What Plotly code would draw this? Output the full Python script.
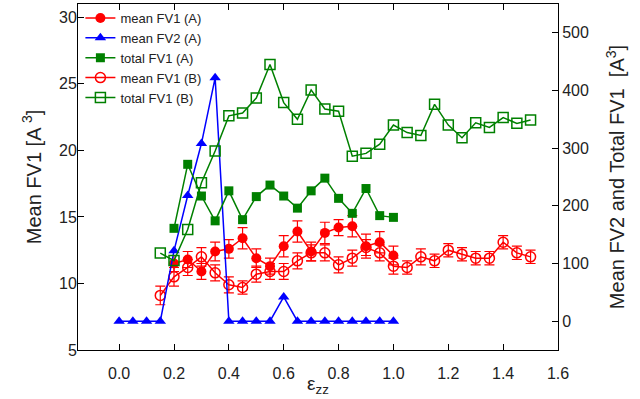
import plotly.graph_objects as go

# strain values
x_fv2_a = [0.0, 0.05, 0.1, 0.15, 0.2, 0.25, 0.3, 0.35, 0.4, 0.45, 0.5, 0.55, 0.6, 0.65, 0.7, 0.75, 0.8, 0.85, 0.9, 0.95, 1.0]
x_a = [0.2, 0.25, 0.3, 0.35, 0.4, 0.45, 0.5, 0.55, 0.6, 0.65, 0.7, 0.75, 0.8, 0.85, 0.9, 0.95, 1.0]
x_b = [0.15, 0.2, 0.25, 0.3, 0.35, 0.4, 0.45, 0.5, 0.55, 0.6, 0.65, 0.7, 0.75, 0.8, 0.85, 0.9, 0.95, 1.0,
       1.05, 1.1, 1.15, 1.2, 1.25, 1.3, 1.35, 1.4, 1.45, 1.5]

# series
mean_fv1_a = [11.5, 11.8, 10.9, 12.4, 12.6, 13.4, 11.9, 11.3, 12.8, 13.9, 12.4, 13.8, 14.2, 14.3, 12.8, 13.1, 12.1]
mean_fv1_a_err = [0.6, 0.6, 0.6, 0.7, 0.7, 0.8, 0.7, 0.6, 0.8, 0.8, 0.7, 0.8, 0.6, 0.8, 0.9, 0.8, 0.7]
mean_fv2_a = [0, 0, 0, 0, 122, 218, 308, 422, 0, 0, 0, 0, 42, 0, 0, 0, 0, 0, 0, 0, 0]
total_fv1_a = [161, 272, 217, 174, 226, 176, 216, 236, 217, 196, 226, 248, 213, 187, 230, 183, 180]
mean_fv1_b = [9.1, 10.5, 11.2, 12.0, 10.8, 9.9, 9.7, 10.7, 10.9, 10.9, 11.7, 12.3, 12.3, 11.4, 11.9, 12.7,
              12.3, 11.3, 11.2, 12.0, 11.7, 12.5, 12.2, 11.9, 11.9, 13.1, 12.3, 12.0]
mean_fv1_b_err = [0.7, 0.7, 0.6, 0.7, 0.6, 0.6, 0.5, 0.6, 0.6, 0.6, 0.6, 0.6, 0.6, 0.6, 0.6, 0.6,
                  0.6, 0.6, 0.5, 0.6, 0.5, 0.5, 0.5, 0.5, 0.5, 0.5, 0.5, 0.5]
total_fv1_b = [118, 105, 159, 240, 295, 356, 361, 387, 445, 379, 350, 401, 368, 364, 286, 291,
               307, 340, 327, 322, 376, 340, 318, 344, 336, 353, 343, 349]

x_ticks = [0.0, 0.2, 0.4, 0.6, 0.8, 1.0, 1.2, 1.4, 1.6]
y_ticks = [5, 10, 15, 20, 25, 30]
y2_ticks = [0, 100, 200, 300, 400, 500]

RED = "#FF0000"
BLUE = "#0000FF"
GREEN = "#008000"
FONT = "Liberation Sans, Arial, sans-serif"
TXT = "#222"

fig = go.Figure()

fig.add_trace(go.Scatter(
    x=x_a, y=mean_fv1_a, name="mean FV1 (A)", mode="lines+markers",
    line=dict(color=RED, width=1.5),
    marker=dict(symbol="circle", size=10, color=RED),
    error_y=dict(type="data", array=mean_fv1_a_err, color=RED, thickness=1.2, width=5),
    yaxis="y"))
fig.add_trace(go.Scatter(
    x=x_fv2_a, y=mean_fv2_a, name="mean FV2 (A)", mode="lines+markers",
    line=dict(color=BLUE, width=1.5),
    marker=dict(symbol="triangle-up", size=10, color=BLUE),
    yaxis="y2"))
fig.add_trace(go.Scatter(
    x=x_a, y=total_fv1_a, name="total FV1 (A)", mode="lines+markers",
    line=dict(color=GREEN, width=1.5),
    marker=dict(symbol="square", size=9, color=GREEN),
    yaxis="y2"))
fig.add_trace(go.Scatter(
    x=x_b, y=mean_fv1_b, name="mean FV1 (B)", mode="lines+markers",
    line=dict(color=RED, width=1.5),
    marker=dict(symbol="circle-open", size=10, color=RED, line=dict(width=1.5)),
    error_y=dict(type="data", array=mean_fv1_b_err, color=RED, thickness=1.2, width=5),
    yaxis="y"))
fig.add_trace(go.Scatter(
    x=x_b, y=total_fv1_b, name="total FV1 (B)", mode="lines+markers",
    line=dict(color=GREEN, width=1.5),
    marker=dict(symbol="square-open", size=10, color=GREEN, line=dict(width=1.5)),
    yaxis="y2"))

axis_common = dict(
    showline=True, linecolor="black", linewidth=1,
    ticks="inside", ticklen=6, tickcolor="black", tickwidth=1,
    showgrid=False, zeroline=False,
    tickfont=dict(family=FONT, size=16, color=TXT),
)

fig.update_layout(
    width=640, height=399,
    margin=dict(l=78, r=82, t=4, b=49, autoexpand=False),
    paper_bgcolor="white", plot_bgcolor="white",
    font=dict(family=FONT, color=TXT),
    showlegend=True,
    legend=dict(x=0.005, y=1.003, xanchor="left", yanchor="top",
                bgcolor="rgba(0,0,0,0)", font=dict(family=FONT, size=13, color=TXT),
                itemwidth=30, tracegroupgap=0),
    xaxis=dict(range=[-0.15, 1.6], tickvals=x_ticks, ticktext=[f"{v:.1f}" for v in x_ticks],
               mirror="ticks", ticklabelstandoff=9, **axis_common),
    yaxis=dict(range=[5, 31], tickvals=y_ticks, mirror=False, ticklabelstandoff=-3,
               title=dict(text="Mean FV1 [A <sup>3</sup>]", font=dict(family=FONT, size=20, color=TXT), standoff=12),
               **axis_common),
    yaxis2=dict(range=[-50, 550], tickvals=y2_ticks, overlaying="y", side="right",
                title=dict(text="Mean FV2 and Total FV1  [A<sup>3</sup>]", font=dict(family=FONT, size=20, color=TXT), standoff=22),
                **axis_common),
    annotations=[dict(text="ε<sub>zz</sub>", xref="paper", yref="paper", x=0.5, y=-0.1,
                      xanchor="center", yanchor="middle", showarrow=False,
                      font=dict(family=FONT, size=19, color=TXT))],
)

fig.write_html("out.html", config={"displayModeBar": False},
               post_script="document.body.style.margin='0';")
